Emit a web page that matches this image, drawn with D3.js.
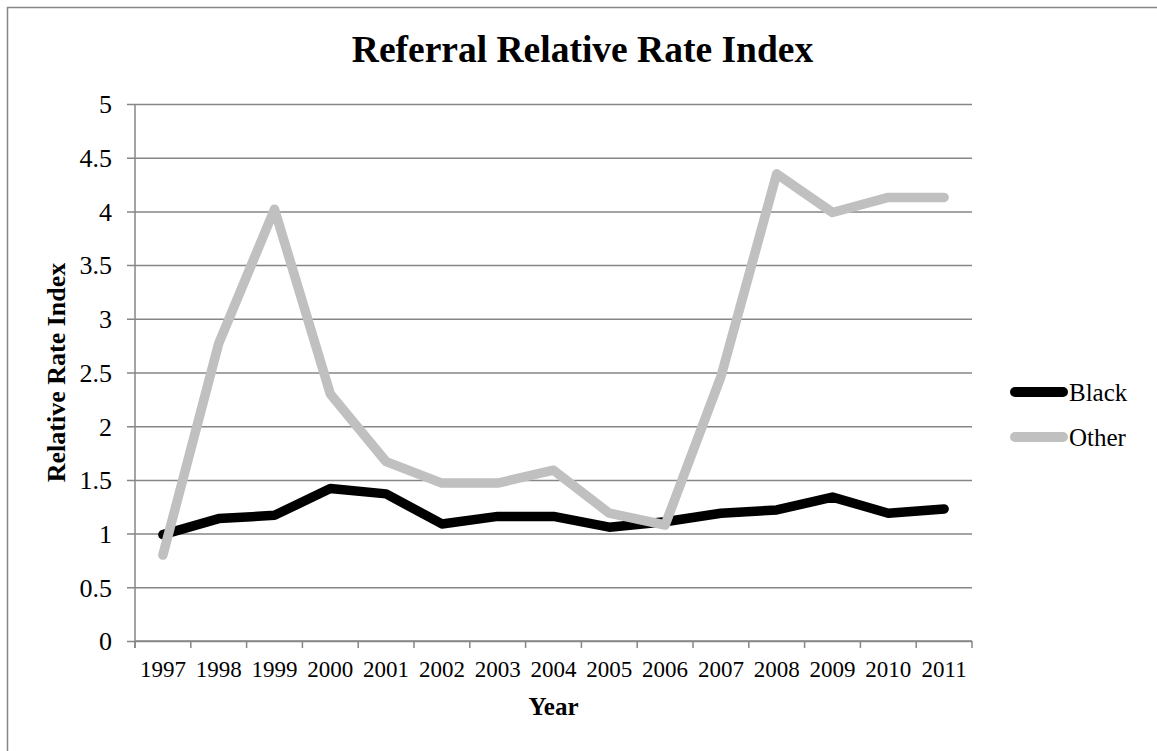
<!DOCTYPE html>
<html>
<head>
<meta charset="utf-8">
<script src="https://cdn.jsdelivr.net/npm/d3@7"></script>
<style>
  html, body { margin: 0; padding: 0; background: #fff; }
  svg { display: block; }
  svg text { font-family: "Liberation Serif", "Times New Roman", "DejaVu Serif", serif; fill: #000; }
</style>
</head>
<body>
<svg id="chart" width="1157" height="751"></svg>
<script>
// Referral Relative Rate Index by year
const years = ["1997","1998","1999","2000","2001","2002","2003","2004","2005","2006","2007","2008","2009","2010","2011"];
const black = [0.99, 1.14, 1.17, 1.42, 1.37, 1.09, 1.16, 1.16, 1.06, 1.11, 1.19, 1.22, 1.34, 1.19, 1.23];
const other = [0.80, 2.77, 4.02, 2.30, 1.67, 1.47, 1.47, 1.59, 1.19, 1.08, 2.46, 4.35, 3.99, 4.13, 4.13];
const yTicks = [0, 0.5, 1, 1.5, 2, 2.5, 3, 3.5, 4, 4.5, 5];
const seriesNames = ["Black", "Other"];
const seriesColors = ["#000000", "#c0c0c0"];

const serif = "'Liberation Serif', 'Times New Roman', serif";
const svg = d3.select("#chart");
const gridColor = "#868686";

// outer frame
svg.append("rect")
  .attr("x", 7.5).attr("y", 7.5)
  .attr("width", 1170).attr("height", 770)
  .attr("fill", "none").attr("stroke", gridColor).attr("stroke-width", 1.5);

const plotLeft = 135, plotRight = 972, plotTop = 104, plotBottom = 641;

const x = d3.scaleBand().domain(years).range([plotLeft, plotRight]).paddingInner(0).paddingOuter(0);
const y = d3.scaleLinear().domain([0, 5]).range([plotBottom, plotTop]);

// horizontal gridlines with outer ticks
const yAxis = d3.axisLeft(y).tickValues(yTicks).tickSize(-(plotRight - plotLeft)).tickSizeOuter(0)
  .tickFormat(d3.format(""));
const gy = svg.append("g").attr("transform", `translate(${plotLeft},0)`).call(yAxis)
  .attr("font-family", serif).attr("font-size", 26);
gy.select(".domain").remove();
gy.selectAll(".tick line")
  .attr("x1", -8)
  .attr("stroke", gridColor).attr("stroke-width", 1.5);
gy.selectAll(".tick text")
  .attr("x", -23)
  .attr("dy", "0.34em")
  .style("font-family", serif)
  .style("font-size", "26px")
  .attr("fill", "#000");

// vertical axis line
svg.append("line")
  .attr("x1", plotLeft).attr("x2", plotLeft).attr("y1", plotTop).attr("y2", plotBottom + 7)
  .attr("stroke", gridColor).attr("stroke-width", 1.5);

// category axis with tick marks on band boundaries
const gx = svg.append("g").attr("transform", `translate(0,${plotBottom})`);
gx.append("line")
  .attr("x1", plotLeft).attr("x2", plotRight).attr("y1", 0).attr("y2", 0)
  .attr("stroke", gridColor).attr("stroke-width", 1.5);
const boundaries = years.map(d => x(d)).concat([x(years[years.length - 1]) + x.bandwidth()]);
gx.selectAll("line.tk").data(boundaries).enter().append("line")
  .attr("class", "tk")
  .attr("x1", d => d).attr("x2", d => d).attr("y1", 0).attr("y2", 7)
  .attr("stroke", gridColor).attr("stroke-width", 1.5);
gx.selectAll("text").data(years).enter().append("text")
  .attr("x", d => x(d) + x.bandwidth() / 2)
  .attr("y", 36)
  .attr("text-anchor", "middle")
  .style("font-family", serif)
  .style("font-size", "23px")
  .text(d => d);

// title and axis titles
svg.append("text")
  .attr("x", 582.5).attr("y", 62)
  .attr("text-anchor", "middle")
  .style("font-family", serif)
  .style("font-size", "37.5px").style("font-weight", "bold")
  .text("Referral Relative Rate Index");

svg.append("text")
  .attr("x", (plotLeft + plotRight) / 2).attr("y", 715)
  .attr("text-anchor", "middle")
  .style("font-family", serif)
  .style("font-size", "25px").style("font-weight", "bold")
  .text("Year");

svg.append("text")
  .attr("transform", `translate(65,${(plotTop + plotBottom) / 2}) rotate(-90)`)
  .attr("text-anchor", "middle")
  .style("font-family", serif)
  .style("font-size", "26px").style("font-weight", "bold")
  .text("Relative Rate Index");

// series lines
const line = d3.line()
  .x((d, i) => x(years[i]) + x.bandwidth() / 2)
  .y(d => y(d));

[black, other].forEach((vals, k) => {
  svg.append("path")
    .datum(vals)
    .attr("d", line)
    .attr("fill", "none")
    .attr("stroke", seriesColors[k])
    .attr("stroke-width", 9.5)
    .attr("stroke-linecap", "round")
    .attr("stroke-linejoin", "round");
});

// legend
const legend = svg.append("g");
seriesNames.forEach((name, k) => {
  const ly = 392 + k * 45;
  legend.append("line")
    .attr("x1", 1015).attr("x2", 1063).attr("y1", ly).attr("y2", ly)
    .attr("stroke", seriesColors[k]).attr("stroke-width", 10)
    .attr("stroke-linecap", "round");
  legend.append("text")
    .attr("x", 1069).attr("y", ly + 8.5)
    .style("font-family", serif)
    .style("font-size", "25px")
    .text(name);
});
</script>
</body>
</html>
